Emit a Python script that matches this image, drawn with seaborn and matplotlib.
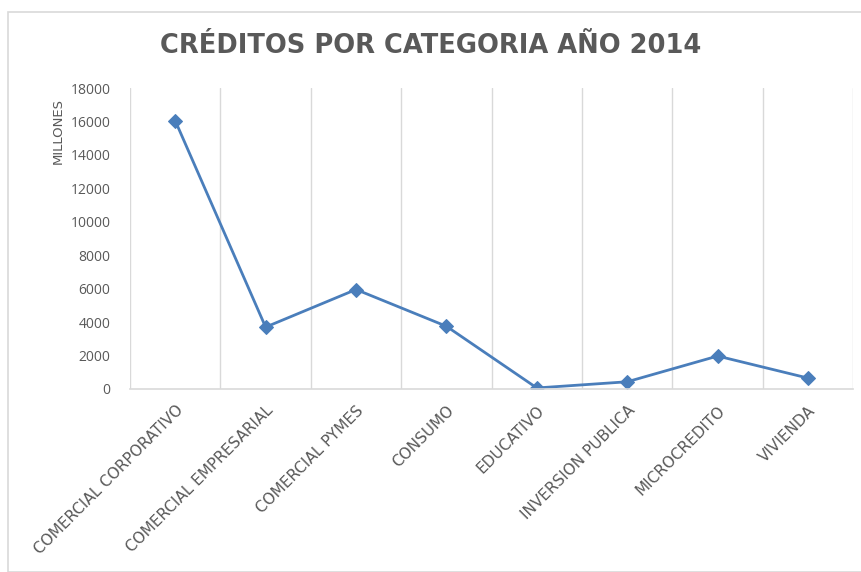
import seaborn as sns
import pandas as pd
import matplotlib.pyplot as plt
from matplotlib.patches import Rectangle

categorias = ["COMERCIAL CORPORATIVO", "COMERCIAL EMPRESARIAL", "COMERCIAL PYMES",
              "CONSUMO", "EDUCATIVO", "INVERSION PUBLICA", "MICROCREDITO", "VIVIENDA"]
millones = [16050, 3700, 5950, 3750, 60, 430, 1970, 650]
y_ticks = [0, 2000, 4000, 6000, 8000, 10000, 12000, 14000, 16000, 18000]

df = pd.DataFrame({"categoria": categorias, "millones": millones})
df["pos"] = range(len(categorias))

sns.set_style("white")
plt.rcParams['font.family'] = ['Open Sans', 'DejaVu Sans']

fig = plt.figure(figsize=(8.61, 5.72), dpi=100)
ax = fig.add_axes([0.151, 0.320, 0.840, 0.526])

# light frame round the chart, like the Excel chart area
fig.patches.append(Rectangle((8 / 861, 0), 1, 1 - 12 / 572, transform=fig.transFigure,
                             fill=False, edgecolor="#D9D9D9", linewidth=1.2))

sns.lineplot(data=df, x="pos", y="millones", ax=ax, color="#4A7EBB", linewidth=2,
             marker="D", markersize=7, markeredgecolor="#4A7EBB", sort=False)

# vertical grid lines between categories
for k in range(len(categorias) + 1):
    ax.axvline(k - 0.5, color="#D9D9D9", linewidth=1, zorder=0)

ax.set_xlim(-0.5, len(categorias) - 0.5)
ax.set_ylim(0, 18000)
ax.set_yticks(y_ticks)
ax.set_yticklabels([str(v) for v in y_ticks], fontsize=10, color="#595959")
ax.set_xticks(df["pos"])
ax.set_xticklabels(categorias, rotation=45, ha="right", rotation_mode="anchor",
                   fontsize=11, color="#595959", family="DejaVu Sans")
ax.tick_params(axis="both", length=0)
ax.tick_params(axis="x", pad=10)
ax.tick_params(axis="y", pad=14)

for side in ["top", "right", "left"]:
    ax.spines[side].set_visible(False)
ax.spines["bottom"].set_color("#D9D9D9")
ax.spines["bottom"].set_linewidth(1.2)

ax.set_xlabel("")
ax.set_ylabel("MILLONES", fontsize=9.5, color="#595959", family="DejaVu Sans")
ax.yaxis.set_label_coords(-0.09, 0.857)

fig.text(0.5, 0.92, "CRÉDITOS POR CATEGORIA AÑO 2014", ha="center", va="center",
         fontsize=18.5, fontweight="bold", color="#595959", family="DejaVu Sans")

fig.savefig("out.png", dpi=100)
